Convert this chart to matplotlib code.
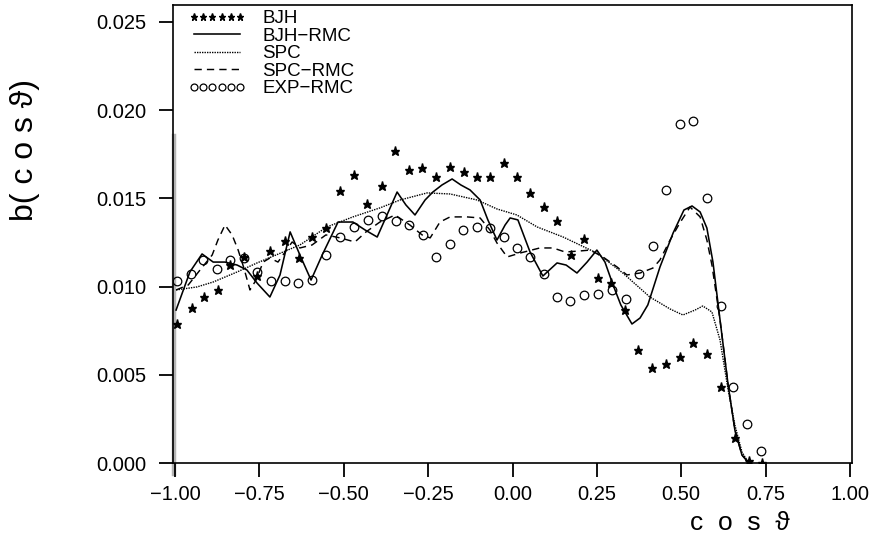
import matplotlib
matplotlib.use("Agg")
import matplotlib.pyplot as plt

plt.rcParams['font.family'] = ['Liberation Sans', 'DejaVu Sans']

# ---- data ----
bjh_x = [-0.994, -0.951, -0.914, -0.873, -0.836, -0.797, -0.757, -0.719, -0.674, -0.634,
         -0.594, -0.553, -0.511, -0.470, -0.430, -0.388, -0.347, -0.307, -0.267, -0.227,
         -0.185, -0.145, -0.105, -0.067, -0.025, 0.013, 0.052, 0.093, 0.132, 0.173,
         0.212, 0.252, 0.292, 0.333, 0.373, 0.413, 0.455, 0.495, 0.536, 0.576,
         0.617, 0.658, 0.701, 0.740]
bjh_y = [0.0079, 0.0088, 0.0094, 0.0098, 0.0112, 0.0117, 0.0106, 0.0120, 0.0126, 0.0116,
         0.0128, 0.0133, 0.0154, 0.0163, 0.0147, 0.0157, 0.0177, 0.0166, 0.0167, 0.0162,
         0.0168, 0.0165, 0.0162, 0.0162, 0.0170, 0.0162, 0.0153, 0.0145, 0.0137, 0.0118,
         0.0127, 0.0105, 0.0102, 0.0087, 0.0064, 0.0054, 0.0056, 0.0060, 0.0068, 0.0062,
         0.0043, 0.0014, 0.0001, 0.0000]

bjh_rmc_x = [-0.997, -0.956, -0.920, -0.887, -0.852, -0.816, -0.787, -0.757, -0.719, -0.689,
             -0.659, -0.630, -0.597, -0.564, -0.517, -0.473, -0.437, -0.401, -0.372, -0.342,
             -0.316, -0.289, -0.259, -0.236, -0.209, -0.179, -0.153, -0.126, -0.096, -0.073,
             -0.046, -0.022, -0.007, 0.016, 0.052, 0.090, 0.132, 0.159, 0.191, 0.221,
             0.250, 0.274, 0.298, 0.321, 0.354, 0.378, 0.401, 0.437, 0.476, 0.508,
             0.532, 0.556, 0.576, 0.594, 0.615, 0.639, 0.659, 0.680, 0.698]
bjh_rmc_y = [0.00867, 0.01083, 0.01185, 0.01139, 0.01139, 0.01122, 0.01094, 0.01020, 0.00941, 0.01066,
             0.01310, 0.01179, 0.01037, 0.01179, 0.01366, 0.01366, 0.01321, 0.01281, 0.01406, 0.01536,
             0.01463, 0.01406, 0.01491, 0.01536, 0.01576, 0.01610, 0.01576, 0.01548, 0.01491, 0.01378,
             0.01264, 0.01349, 0.01389, 0.01378, 0.01196, 0.01060, 0.01134, 0.01122, 0.01077, 0.01139,
             0.01207, 0.01139, 0.01009, 0.00896, 0.00788, 0.00822, 0.00896, 0.01111, 0.01304, 0.01434,
             0.01457, 0.01423, 0.01332, 0.01139, 0.00811, 0.00442, 0.00187, 0.00045, 0.00006]

spc_x = [-0.997, -0.935, -0.887, -0.816, -0.757, -0.630, -0.550, -0.473, -0.393, -0.333,
         -0.253, -0.185, -0.105, -0.046, 0.013, 0.073, 0.150, 0.250, 0.327, 0.407,
         0.467, 0.505, 0.541, 0.564, 0.591, 0.615, 0.639, 0.659, 0.680, 0.698]
spc_y = [0.00981, 0.00998, 0.01026, 0.01083, 0.01134, 0.01236, 0.01338, 0.01395, 0.01446, 0.01491,
         0.01531, 0.01525, 0.01491, 0.01440, 0.01406, 0.01338, 0.01281, 0.01190, 0.01077, 0.00941,
         0.00873, 0.00839, 0.00867, 0.00890, 0.00856, 0.00697, 0.00414, 0.00215, 0.00062, 0.00006]

spc_rmc_x = [-0.997, -0.961, -0.926, -0.890, -0.873, -0.852, -0.831, -0.813, -0.796, -0.778,
             -0.760, -0.739, -0.719, -0.695, -0.674, -0.653, -0.630, -0.594, -0.553, -0.511,
             -0.467, -0.434, -0.393, -0.348, -0.304, -0.268, -0.244, -0.215, -0.185, -0.135,
             -0.096, -0.067, -0.046, -0.016, 0.022, 0.081, 0.120, 0.156, 0.200, 0.230,
             0.268, 0.310, 0.339, 0.378, 0.416, 0.437, 0.467, 0.496, 0.526, 0.556,
             0.576, 0.591, 0.615, 0.639, 0.659, 0.680, 0.698]
spc_rmc_y = [0.00981, 0.01009, 0.01094, 0.01179, 0.01264, 0.01349, 0.01293, 0.01207, 0.01105, 0.00981,
             0.01037, 0.01139, 0.01162, 0.01139, 0.01196, 0.01253, 0.01219, 0.01236, 0.01293, 0.01276,
             0.01253, 0.01310, 0.01366, 0.01406, 0.01349, 0.01293, 0.01276, 0.01366, 0.01395, 0.01395,
             0.01389, 0.01321, 0.01247, 0.01168, 0.01190, 0.01219, 0.01219, 0.01196, 0.01202, 0.01207,
             0.01168, 0.01111, 0.01066, 0.01077, 0.01105, 0.01151, 0.01264, 0.01361, 0.01451, 0.01395,
             0.01264, 0.01122, 0.00811, 0.00442, 0.00187, 0.00045, 0.00006]

exp_x = [-0.993, -0.954, -0.916, -0.876, -0.836, -0.796, -0.756, -0.716, -0.674, -0.635,
         -0.593, -0.552, -0.511, -0.471, -0.429, -0.388, -0.346, -0.307, -0.266, -0.227,
         -0.185, -0.146, -0.106, -0.067, -0.025, 0.014, 0.052, 0.094, 0.132, 0.170,
         0.212, 0.254, 0.294, 0.335, 0.374, 0.415, 0.455, 0.496, 0.536, 0.575,
         0.618, 0.654, 0.694, 0.737]
exp_y = [0.0103, 0.0107, 0.0115, 0.0110, 0.0115, 0.0116, 0.0108, 0.0103, 0.0103, 0.0102,
         0.0104, 0.0118, 0.0128, 0.0134, 0.0138, 0.0140, 0.0137, 0.0135, 0.0129, 0.0117,
         0.0124, 0.0132, 0.0134, 0.0133, 0.0128, 0.0122, 0.0117, 0.0107, 0.0094, 0.0092,
         0.0095, 0.0096, 0.0098, 0.0093, 0.0107, 0.0123, 0.0155, 0.0192, 0.0194, 0.0150,
         0.0089, 0.0043, 0.0022, 0.0007]

x_ticks = [-1.00, -0.75, -0.50, -0.25, 0.00, 0.25, 0.50, 0.75, 1.00]
y_ticks = [0.000, 0.005, 0.010, 0.015, 0.020, 0.025]

# ---- figure ----
fig = plt.figure(figsize=(8.86, 5.39), dpi=100)
ax = fig.add_axes([0.1953, 0.141, 0.7663, 0.849])

# grey scan band along the lower left edge of the frame
ax.axvline(-1.003, ymin=-0.025, ymax=0.715, color='#b4b4b4', lw=3.2,
           clip_on=False, zorder=1)

ax.plot(bjh_x, bjh_y, linestyle='none', marker='*', markersize=6.5,
        color='black', label='BJH', zorder=3)
ax.plot(bjh_rmc_x, bjh_rmc_y, '-', color='black', lw=1.15, label='BJH\u2212RMC', zorder=3)
ax.plot(spc_x, spc_y, color='black', lw=1.0, linestyle=(0, (1, 0.8)), label='SPC', zorder=3)
ax.plot(spc_rmc_x, spc_rmc_y, color='black', lw=1.05, linestyle=(0, (5, 3.5)),
        label='SPC\u2212RMC', zorder=3)
ax.plot(exp_x, exp_y, linestyle='none', marker='o', markersize=6.2, mfc='none',
        mec='black', mew=0.9, label='EXP\u2212RMC', zorder=3)

ax.set_xlim(-1.006, 1.006)
ax.set_ylim(0, 0.02594)
ax.set_xticks(x_ticks)
ax.set_xticklabels([f"{v:.2f}".replace('-', '\u2212') for v in x_ticks])
ax.set_yticks(y_ticks)
ax.set_yticklabels([f"{v:.3f}" for v in y_ticks])

ax.tick_params(axis='both', direction='out', length=10, width=1.3,
               labelsize=14.5, colors='black')
ax.tick_params(axis='y', pad=9)
ax.tick_params(axis='x', pad=6)
for s in ax.spines.values():
    s.set_linewidth(1.2)
    s.set_zorder(2)

ax.set_ylabel('b( c o s \u03d1)', fontsize=23)
ax.yaxis.set_label_coords(-0.196, 0.685)
ax.set_xlabel('c  o  s  \u03d1', fontsize=19)
ax.xaxis.set_label_coords(0.835, -0.105)

leg = ax.legend(loc='upper left', bbox_to_anchor=(0.022, 0.99), frameon=False,
                fontsize=13.5, numpoints=6, handlelength=3.1, handletextpad=0.85,
                labelspacing=0.02, borderpad=0, borderaxespad=0, markerscale=0.8)

fig.savefig('out.png', dpi=100)
